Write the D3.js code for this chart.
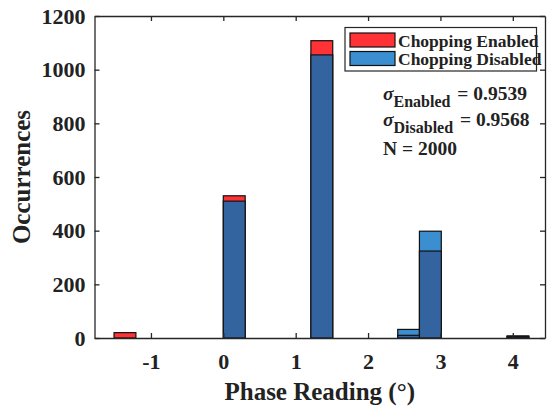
<!DOCTYPE html>
<html><head><meta charset="utf-8">
<script src="https://cdn.jsdelivr.net/npm/d3@7"></script>
<style>
body{margin:0;background:#fff;}
text{font-family:"Liberation Serif","Times New Roman",serif;font-weight:bold;fill:#222;}
</style></head>
<body><svg id="c" width="547" height="407"></svg>
<script>
// Data
const binStarts = [-1.51, 0, 1.21, 2.41, 2.71, 3.92];
const binWidth = 0.302;
const enabledCounts = [20, 530, 1108, 10, 324, 8];
const disabledCounts = [0, 510, 1055, 32, 398, 5];
const xTicks = [-1, 0, 1, 2, 3, 4];
const yTicks = [0, 200, 400, 600, 800, 1000, 1200];
const legendLabels = ["Chopping Enabled", "Chopping Disabled"];

const colRed = "#ff3236", colBlue = "#3b8ecf", colDark = "#3464a0";
const svg = d3.select("#c");
const L = 94.5, R = 545, T = 16, B = 338;
const x = d3.scaleLinear().domain([-1.78, 4.445]).range([L, R]);
const y = d3.scaleLinear().domain([0, 1200]).range([B, T]);
const fmt = d => String(d);

const bins = binStarts.map((s, i) => ({s, e: enabledCounts[i], d: disabledCounts[i]}));
const g = svg.append("g");
g.selectAll("rect.top").data(bins).join("rect")
  .attr("x", d => x(d.s)).attr("width", d => x(d.s + binWidth) - x(d.s))
  .attr("y", d => y(Math.max(d.e, d.d))).attr("height", d => y(0) - y(Math.max(d.e, d.d)))
  .attr("fill", d => d.e >= d.d ? colRed : colBlue)
  .attr("stroke", "#111").attr("stroke-width", 1.2);
g.selectAll("rect.ov").data(bins.filter(d => Math.min(d.e, d.d) > 0)).join("rect")
  .attr("x", d => x(d.s)).attr("width", d => x(d.s + binWidth) - x(d.s))
  .attr("y", d => y(Math.min(d.e, d.d))).attr("height", d => y(0) - y(Math.min(d.e, d.d)))
  .attr("fill", colDark)
  .attr("stroke", "#111").attr("stroke-width", 1.2);

const ax = (sel) => sel.selectAll("path,line").attr("stroke", "#262626").attr("stroke-width", 1.3);
const xb = svg.append("g").attr("transform", `translate(0,${B})`)
  .call(d3.axisBottom(x).tickValues(xTicks).tickSize(-5).tickPadding(15).tickSizeOuter(0).tickFormat(fmt));
xb.call(ax); xb.selectAll("text").attr("font-size", 22);
const xt = svg.append("g").attr("transform", `translate(0,${T})`)
  .call(d3.axisTop(x).tickValues(xTicks).tickSize(-5).tickSizeOuter(0).tickFormat(""));
xt.call(ax);
const yl = svg.append("g").attr("transform", `translate(${L},0)`)
  .call(d3.axisLeft(y).tickValues(yTicks).tickSize(-5).tickPadding(9).tickSizeOuter(0).tickFormat(fmt));
yl.call(ax); yl.selectAll("text").attr("font-size", 22);
const yr = svg.append("g").attr("transform", `translate(${R},0)`)
  .call(d3.axisRight(y).tickValues(yTicks).tickSize(-5).tickSizeOuter(0).tickFormat(""));
yr.call(ax);
svg.selectAll(".domain").attr("stroke", "#262626").attr("stroke-width", 1.3);

svg.append("text").attr("x", (L + R) / 2).attr("y", 400).attr("text-anchor", "middle")
  .attr("font-size", 25).text("Phase Reading (°)");
svg.append("text").attr("transform", `translate(30,${(T + B) / 2}) rotate(-90)`)
  .attr("text-anchor", "middle").attr("font-size", 25).text("Occurrences");

const lg = svg.append("g");
lg.append("rect").attr("x", 345).attr("y", 27.5).attr("width", 191.5).attr("height", 43.5)
  .attr("fill", "#fff").attr("stroke", "#262626").attr("stroke-width", 1.2);
[colRed, colBlue].forEach((c, i) => {
  lg.append("rect").attr("x", 350).attr("y", 33 + i * 18.5).attr("width", 45).attr("height", 14)
    .attr("fill", c).attr("stroke", "#111").attr("stroke-width", 1.2);
  lg.append("text").attr("x", 398).attr("y", 46.5 + i * 18.5).attr("font-size", 17.5).text(legendLabels[i]);
});

function stat(yb, sub, val) {
  const t = svg.append("text").attr("x", 383).attr("y", yb).attr("font-size", 19.5);
  t.append("tspan").attr("font-style", "italic").text("σ");
  t.append("tspan").attr("font-size", 16).attr("dy", 7).text(sub);
  t.append("tspan").attr("dy", -7).attr("dx", 2).text(" = " + val);
}
stat(100, "Enabled", "0.9539");
stat(126, "Disabled", "0.9568");
svg.append("text").attr("x", 383).attr("y", 155).attr("font-size", 19.5).text("N = 2000");
</script></body></html>
